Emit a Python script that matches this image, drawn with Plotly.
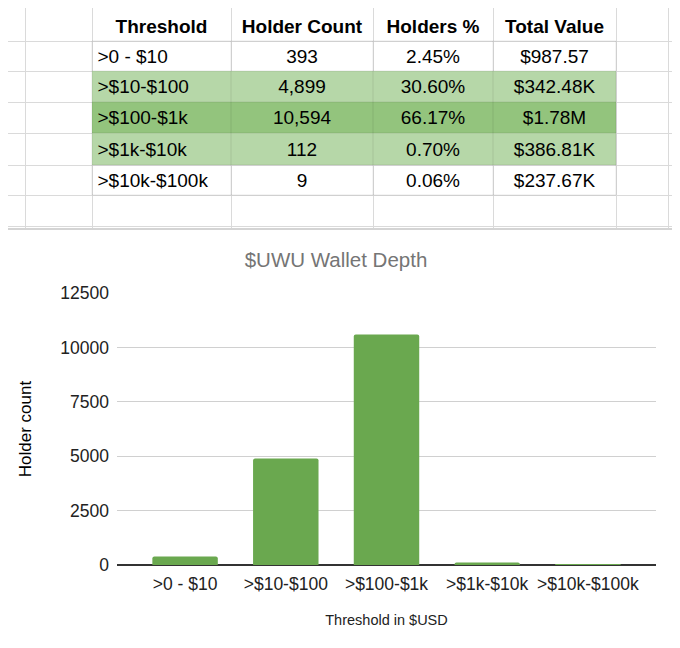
import plotly.graph_objects as go

# table / chart data
thresholds = [">0 - $10", ">$10-$100", ">$100-$1k", ">$1k-$10k", ">$10k-$100k"]
holder_counts = [393, 4899, 10594, 112, 9]
holder_pcts = ["2.45%", "30.60%", "66.17%", "0.70%", "0.06%"]
total_values = ["$987.57", "$342.48K", "$1.78M", "$386.81K", "$237.67K"]
headers = ["Threshold", "Holder Count", "Holders %", "Total Value"]
highlight = [0, 1, 2, 1, 0]  # sheet fill per data row: none / light / mid green
y_ticks = [0, 2500, 5000, 7500, 10000, 12500]

GRID = "#dadada"
LIGHT_GREEN = "#b6d7a8"
MID_GREEN = "#93c47d"
BAR_GREEN = "#6aa84f"
FONT = "Liberation Sans, Arial"
TXT = 19

# the page has an 8px body margin; the sheet axes use page pixels directly
W, H = 672, 640
OFF = 8
col_edges = [0, 25, 92, 231, 373, 493, 616, 668, 680]
row_edges = [-22, 9, 41, 71, 102, 133, 165, 195, 226]
data_cols = [2, 3, 4, 5]
sheet_bottom = 228
text_dy = 2  # svg text sits a touch high of the row centre

fig = go.Figure()

# ---- spreadsheet part ----
xe = col_edges[data_cols[0]:data_cols[-1] + 2]
ye = row_edges[2:3 + len(thresholds)]
z = [[(lvl if lvl else None)] * len(data_cols) for lvl in highlight]
fig.add_trace(go.Heatmap(
    x=xe, y=ye, z=z, zmin=1, zmax=2, xgap=0, ygap=0,
    colorscale=[[0, LIGHT_GREEN], [0.5, LIGHT_GREEN], [0.5, MID_GREEN], [1, MID_GREEN]],
    showscale=False, hoverinfo="skip", xaxis="x2", yaxis="y2",
))

# sheet grid drawn over the fills (darkens the green a little, like the sheet does)
gx, gy = [], []
for x in xe:
    gx += [x, x, None]
    gy += [ye[0], ye[-1], None]
for y in ye:
    gx += [xe[0], xe[-1], None]
    gy += [y, y, None]
fig.add_trace(go.Scatter(
    x=gx, y=gy, mode="lines", line=dict(color="rgba(0,0,0,0.09)", width=1),
    hoverinfo="skip", showlegend=False, xaxis="x2", yaxis="y2",
))

row_mid = [(row_edges[i] + row_edges[i + 1]) / 2 + text_dy
           for i in range(1, 2 + len(thresholds))]
row_mid[0] += 1
col_mid = [(col_edges[c] + col_edges[c + 1]) / 2 for c in data_cols]
table_cols = [thresholds,
              [f"{c:,}" for c in holder_counts],
              holder_pcts,
              total_values]

# header row
fig.add_trace(go.Scatter(
    x=col_mid, y=[row_mid[0]] * len(headers), mode="text",
    text=["<b>" + h + "</b>" for h in headers], textposition="middle center",
    textfont=dict(family=FONT, size=TXT, color="#000000"),
    hoverinfo="skip", showlegend=False, xaxis="x2", yaxis="y2",
))
# first column is left aligned in the sheet
fig.add_trace(go.Scatter(
    x=[col_edges[data_cols[0]] + 5.5] * len(thresholds), y=row_mid[1:], mode="text",
    text=table_cols[0], textposition="middle right",
    textfont=dict(family=FONT, size=TXT, color="#000000"),
    hoverinfo="skip", showlegend=False, xaxis="x2", yaxis="y2",
))
for cx, vals in zip(col_mid[1:], table_cols[1:]):
    fig.add_trace(go.Scatter(
        x=[cx] * len(vals), y=row_mid[1:], mode="text",
        text=vals, textposition="middle center",
        textfont=dict(family=FONT, size=TXT, color="#000000"),
        hoverinfo="skip", showlegend=False, xaxis="x2", yaxis="y2",
    ))

# ---- chart part ----
fig.add_trace(go.Bar(
    x=thresholds, y=holder_counts, marker_color=BAR_GREEN,
    marker_line_width=0, marker_cornerradius=2, showlegend=False,
))

fig.add_shape(type="rect", xref="paper", yref="paper",
              x0=-0.02, x1=(677 - OFF) / W, y0=-0.02, y1=1 - (229 - OFF) / H,
              line=dict(color="#c6c6c6", width=1.5), fillcolor="white", layer="below")

pad = 0.176  # sheets leaves some room either side of the categories
fig.update_layout(
    width=W, height=H,
    margin=dict(l=0, r=0, t=0, b=0),
    paper_bgcolor="white", plot_bgcolor="white",
    font=dict(family=FONT, color="#222222"),
    bargap=0.35,
    title=dict(text="$UWU Wallet Depth", x=(336 - OFF) / W, xanchor="center",
               y=1 - (260 - OFF) / H, yanchor="middle",
               font=dict(size=20.5, color="#757575")),
    xaxis=dict(domain=[(117 - OFF) / W, (656 - OFF) / W], showgrid=False, showline=False,
               range=[-0.5 - pad, len(thresholds) - 0.5 + pad],
               automargin=False, ticklabelstandoff=6,
               tickfont=dict(size=17.5, color="#222222"),
               title=dict(text="Threshold in $USD", font=dict(size=14.5, color="#222222"),
                          standoff=22)),
    yaxis=dict(domain=[(H - (565 - OFF)) / H, (H - (293 - OFF)) / H], range=[0, 12500],
               tickvals=y_ticks, tickformat="d", gridcolor="#d0d0d0", gridwidth=1,
               zeroline=True, zerolinecolor="#333333", zerolinewidth=1.5,
               showline=False, automargin=False, ticklabelstandoff=7,
               tickfont=dict(size=17.5, color="#222222"),
               title=dict(text="Holder count", font=dict(size=17, color="#000000"),
                          standoff=24)),
    xaxis2=dict(domain=[0, 1], range=[OFF, OFF + W], anchor="y2", tickvals=col_edges,
                showgrid=True, gridcolor=GRID, gridwidth=1, zeroline=False,
                showticklabels=False, ticks="", automargin=False, fixedrange=True),
    yaxis2=dict(domain=[1 - (sheet_bottom - OFF) / H, 1], range=[sheet_bottom, OFF],
                anchor="x2", tickvals=row_edges, showgrid=True, gridcolor=GRID,
                gridwidth=1, zeroline=False, showticklabels=False, ticks="",
                automargin=False, fixedrange=True),
)

fig.write_html("out.html")
